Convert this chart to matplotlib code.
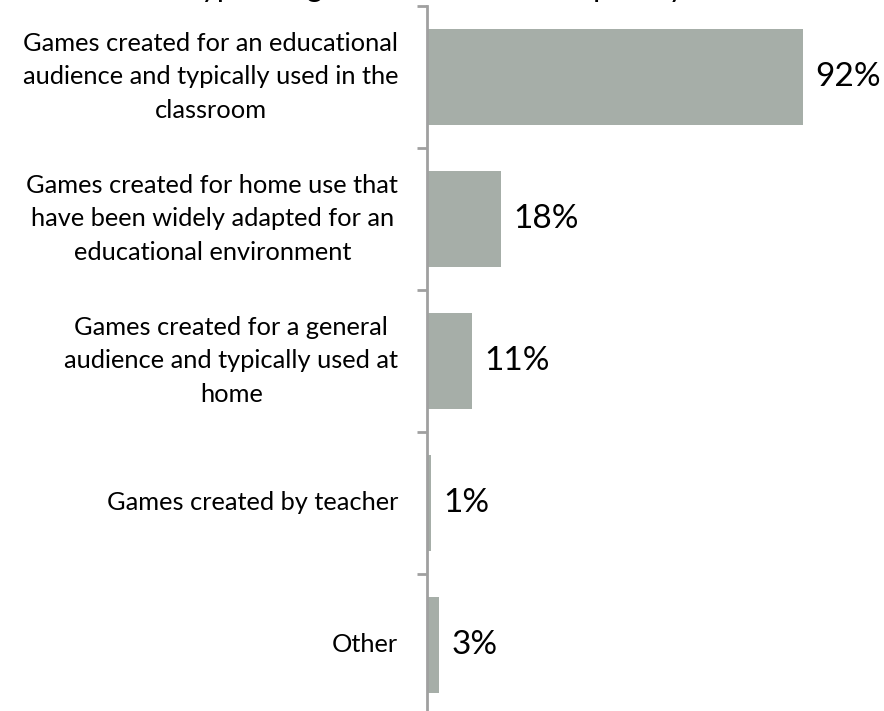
import matplotlib.pyplot as plt

plt.rcParams['font.family'] = ['Lato', 'DejaVu Sans']

categories = [
    'Games created for an educational\naudience and typically used in the\nclassroom',
    'Games created for home use that\nhave been widely adapted for an\neducational environment',
    'Games created for a general\naudience and typically used at\nhome',
    'Games created by teacher',
    'Other',
]
shares = [92, 18, 11, 1, 3]
value_labels = ['92%', '18%', '11%', '1%', '3%']
title = 'Types of games used most frequently'

bar_color = '#a6aea8'
axis_color = '#a0a0a0'

fig = plt.figure(figsize=(8.84, 7.11), dpi=100)
ax = fig.add_axes([427 / 884, -5 / 711, 409 / 884, 710 / 711])

pos = list(range(len(categories)))
ax.barh(pos, [s / 100 for s in shares], height=0.67, color=bar_color)
ax.set_ylim(len(categories) - 0.5, -0.5)
ax.set_xlim(0, 1)

for p, s, lab in zip(pos, shares, value_labels):
    ax.text(s / 100 + 0.03, p, lab, va='center', ha='left', fontsize=24, color='black')

# category labels, centred line by line, right edge just left of the axis
for p, lab in zip(pos, categories):
    ax.text(-0.07, p, lab, va='center', ha='right',
            multialignment='center', fontsize=18.3, linespacing=1.55,
            transform=ax.get_yaxis_transform(), color='black')

ax.set_yticks([i - 0.5 for i in range(len(categories) + 1)])
ax.set_yticklabels([])
ax.tick_params(axis='y', length=7, width=2, color=axis_color, direction='out')
ax.set_xticks([])
for side in ['top', 'right', 'bottom']:
    ax.spines[side].set_visible(False)
ax.spines['left'].set_color(axis_color)
ax.spines['left'].set_linewidth(2)

fig.text(0.49, 1 + 3 / 711, title, ha='center', va='baseline', fontsize=22)

fig.savefig('out.png', dpi=100)
